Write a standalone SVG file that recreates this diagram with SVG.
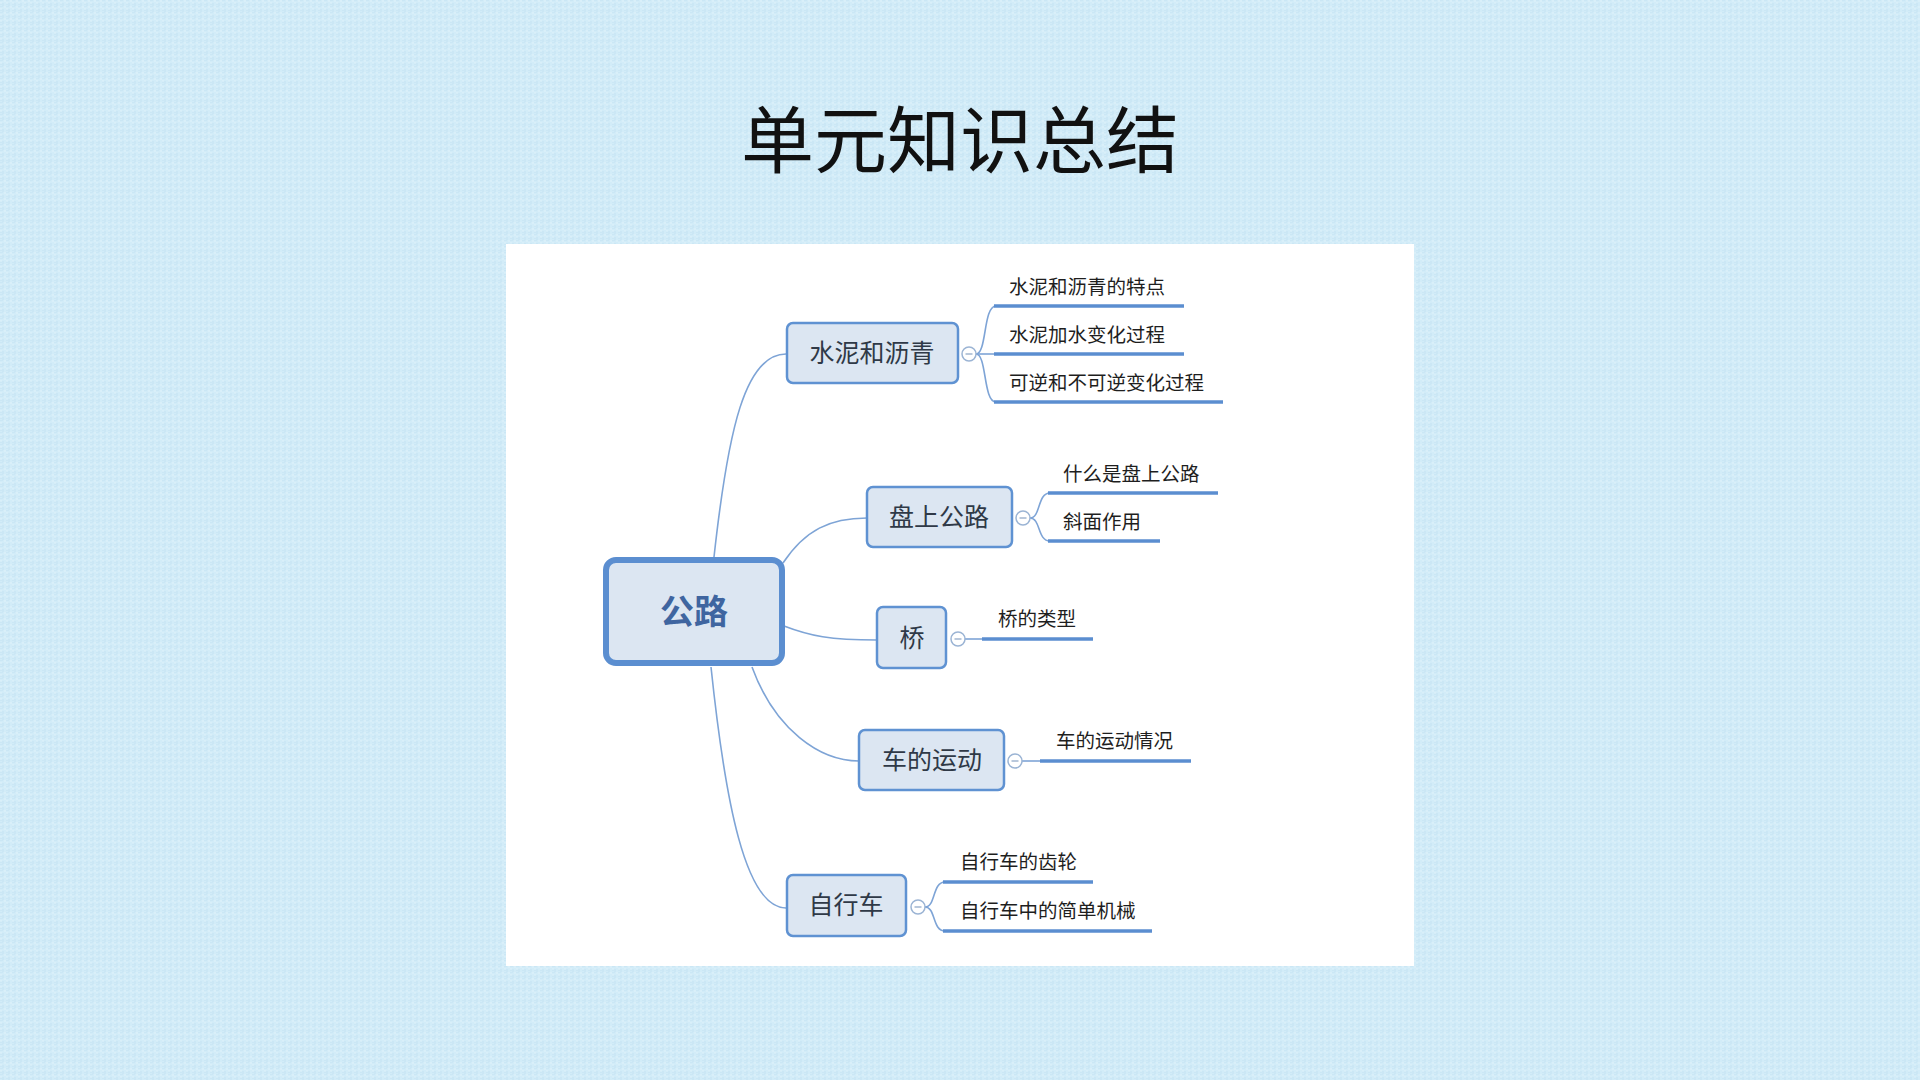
<svg xmlns="http://www.w3.org/2000/svg" width="1920" height="1080" viewBox="0 0 1920 1080">
<defs>
<pattern id="tex" width="6" height="6" patternUnits="userSpaceOnUse">
<rect width="6" height="6" fill="#d2ecf8"/>
<path d="M0 0H3M3 3V6M0 4H2" stroke="#c4e3f2" stroke-width="1"/>
<path d="M4 1H6M1 2V4" stroke="#e0f3fb" stroke-width="1"/>
</pattern>
<style>
.node rect{fill:#dce6f2;stroke:#5f92d2;stroke-width:2.5}
.ntext{font-family:"Noto Sans CJK SC","Noto Sans",sans-serif;font-size:25px;fill:#2f3947;text-anchor:middle}
.stext{font-family:"Noto Sans CJK SC","Noto Sans",sans-serif;font-size:19.5px;fill:#1e1e1e}
.main{fill:none;stroke:#7ea4d6;stroke-width:1.6}
.brace{fill:none;stroke:#7ea4d6;stroke-width:1.6}
.under{stroke:#5b8ed0;stroke-width:3.5;stroke-linecap:butt}
.tog circle{fill:#fff;stroke:#9bb4d4;stroke-width:1.5}
.tog line{stroke:#8aa3c4;stroke-width:1.2}
</style>
</defs>
<rect width="1920" height="1080" fill="url(#tex)"/>
<text x="960" y="167" text-anchor="middle" font-family="Noto Sans CJK SC, Noto Sans, sans-serif" font-size="73" fill="#111">单元知识总结</text>
<rect x="506" y="244" width="908" height="722" fill="#ffffff"/>

<g id="connectors">
<path class="main" d="M714,557 C728,430 745,354 786,354"/>
<path class="main" d="M783,563 C805,530 830,518 867,518"/>
<path class="main" d="M784,626 C810,636 830,640 877,640"/>
<path class="main" d="M752,667 C775,730 820,761 859,761"/>
<path class="main" d="M711,667 C725,800 745,908 786,908"/>
<path class="brace" d="M976,354 C987,354 983,306 996,306"/>
<path class="brace" d="M976,354 L996,354"/>
<path class="brace" d="M976,354 C987,354 983,402 996,402"/>
<path class="brace" d="M1030,518 C1041,518 1037,493 1050,493"/>
<path class="brace" d="M1030,518 C1041,518 1037,541 1050,541"/>
<path class="brace" d="M965,639 L982,639"/>
<path class="brace" d="M1022,761 L1040,761"/>
<path class="brace" d="M925,907 C936,907 932,882 945,882"/>
<path class="brace" d="M925,907 C936,907 932,931 945,931"/>
<line class="under" x1="994" y1="306" x2="1184" y2="306"/>
<line class="under" x1="994" y1="354" x2="1184" y2="354"/>
<line class="under" x1="994" y1="402" x2="1223" y2="402"/>
<line class="under" x1="1048" y1="493" x2="1218" y2="493"/>
<line class="under" x1="1048" y1="541" x2="1160" y2="541"/>
<line class="under" x1="982" y1="639" x2="1093" y2="639"/>
<line class="under" x1="1040" y1="761" x2="1191" y2="761"/>
<line class="under" x1="943" y1="882" x2="1093" y2="882"/>
<line class="under" x1="943" y1="931" x2="1152" y2="931"/>
</g>

<g id="node-root">
<rect x="606" y="560" width="176" height="103" rx="10" fill="#dce6f2" stroke="#5b8ed0" stroke-width="6"/>
<text x="694" y="624" text-anchor="middle" font-family="Noto Sans CJK SC, Noto Sans, sans-serif" font-size="34" font-weight="bold" fill="#3f65a0">公路</text>
</g>

<g id="node-shuini" class="node">
<rect x="787" y="323" width="171" height="60" rx="6"/>
<text class="ntext" x="872" y="362">水泥和沥青</text>
</g>
<g id="node-panshang" class="node">
<rect x="867" y="487" width="145" height="60" rx="6"/>
<text class="ntext" x="939" y="526">盘上公路</text>
</g>
<g id="node-qiao" class="node">
<rect x="877" y="607" width="69" height="61" rx="6"/>
<text class="ntext" x="912" y="647">桥</text>
</g>
<g id="node-yundong" class="node">
<rect x="859" y="730" width="145" height="60" rx="6"/>
<text class="ntext" x="932" y="769">车的运动</text>
</g>
<g id="node-zixingche" class="node">
<rect x="787" y="875" width="119" height="61" rx="6"/>
<text class="ntext" x="846" y="914">自行车</text>
</g>

<g id="toggles" class="tog">
<circle cx="969" cy="354" r="7"/><line x1="965.5" y1="354" x2="972.5" y2="354"/>
<circle cx="1023" cy="518" r="7"/><line x1="1019.5" y1="518" x2="1026.5" y2="518"/>
<circle cx="958" cy="639" r="7"/><line x1="954.5" y1="639" x2="961.5" y2="639"/>
<circle cx="1015" cy="761" r="7"/><line x1="1011.5" y1="761" x2="1018.5" y2="761"/>
<circle cx="918" cy="907" r="7"/><line x1="914.5" y1="907" x2="921.5" y2="907"/>
</g>

<g id="sub-1"><text class="stext" x="1009" y="294">水泥和沥青的特点</text></g>
<g id="sub-2"><text class="stext" x="1009" y="342">水泥加水变化过程</text></g>
<g id="sub-3"><text class="stext" x="1009" y="390">可逆和不可逆变化过程</text></g>
<g id="sub-4"><text class="stext" x="1063" y="481">什么是盘上公路</text></g>
<g id="sub-5"><text class="stext" x="1063" y="529">斜面作用</text></g>
<g id="sub-6"><text class="stext" x="998" y="626">桥的类型</text></g>
<g id="sub-7"><text class="stext" x="1056" y="748">车的运动情况</text></g>
<g id="sub-8"><text class="stext" x="960" y="869">自行车的齿轮</text></g>
<g id="sub-9"><text class="stext" x="960" y="918">自行车中的简单机械</text></g>
</svg>
